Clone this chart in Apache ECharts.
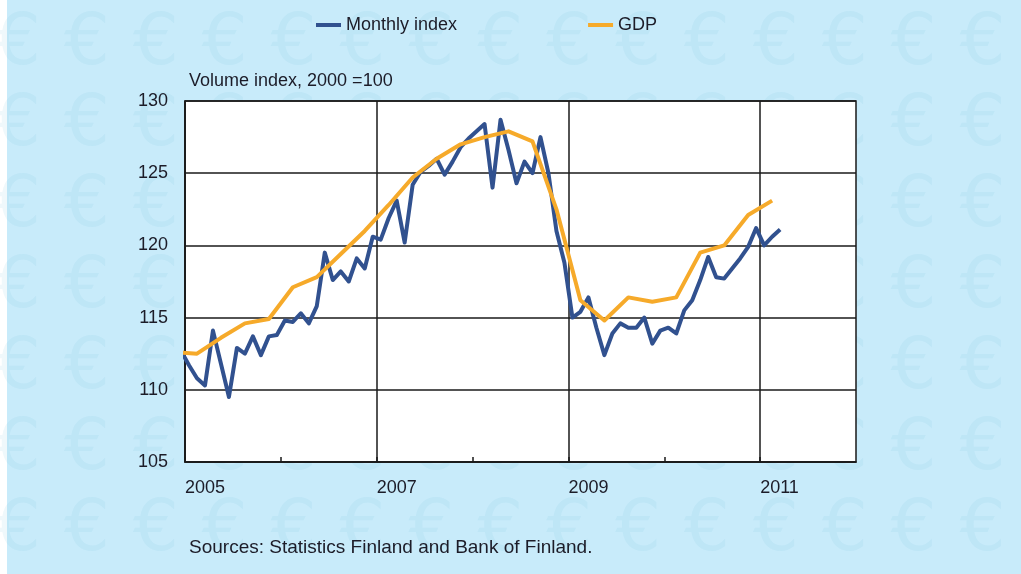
<!DOCTYPE html>
<html>
<head>
<meta charset="utf-8">
<script src="https://cdn.jsdelivr.net/npm/echarts@6/dist/echarts.min.js"></script>
<style>
	html, body { margin:0; padding:0; background:#fff; }
	#IndiceMensual { width:1021px; height:574px; }
</style>
</head>
<body>
<div id="IndiceMensual"></div>
<script>
// monthly index, Dec 2004 .. Mar 2011 (volume index, 2000 = 100)
var monthlyStart = [2004, 12];
var monthlyIndex = [
	112.7,
	111.7, 110.8, 110.3, 114.1, 111.8, 109.5, 112.9, 112.5, 113.7, 112.4, 113.7, 113.8,
	114.8, 114.7, 115.3, 114.6, 115.8, 119.5, 117.6, 118.2, 117.5, 119.1, 118.4, 120.6,
	120.4, 121.9, 123.1, 120.2, 124.2, 125.1, 125.5, 126.0, 124.9, 125.8, 126.8, 127.4,
	127.9, 128.4, 124.0, 128.7, 126.6, 124.3, 125.8, 125.0, 127.5, 125.0, 121.0, 118.8,
	115.0, 115.4, 116.4, 114.3, 112.4, 113.9, 114.6, 114.3, 114.3, 115.0, 113.2, 114.1,
	114.3, 113.9, 115.5, 116.2, 117.6, 119.2, 117.8, 117.7, 118.4, 119.1, 119.9, 121.2,
	120.0, 120.6, 121.1
];

// GDP, quarterly, Q4 2004 .. Q1 2011
var gdpStart = [2004, 4];
var gdp = [
	112.6,
	112.5, 113.6, 114.6, 114.9,
	117.1, 117.8, 119.4, 121.0,
	122.8, 124.7, 126.0, 127.0,
	127.5, 127.9, 127.2, 122.5,
	116.2, 114.8, 116.4, 116.1,
	116.4, 119.5, 120.0, 122.1,
	123.1
];

var yearLabels = [2005, 2007, 2009, 2011];
var legendNames = ['Monthly index', 'GDP'];

var textColor = '#1c1c28';
var fontName = 'Liberation Sans, Arial, sans-serif';

function recorrer(arr, fn) {
	for (var i = 0; i < arr.length; i++) fn(i, arr[i]);
}

// month -> decimal year (middle of month), quarter -> middle of quarter
var serieMensual = new Array();
recorrer(monthlyIndex, function(index, element)
{
	var m = monthlyStart[1] - 1 + index;
	var year = monthlyStart[0] + Math.floor(m / 12);
	serieMensual.push([year + ((m % 12) + 0.5) / 12, element]);
});

var serieGdp = new Array();
recorrer(gdp, function(index, element)
{
	var q = gdpStart[1] - 1 + index;
	var year = gdpStart[0] + Math.floor(q / 4);
	serieGdp.push([year + ((q % 4) * 3 + 1.5) / 12, element]);
});

// faint euro pattern behind the chart
var fondo = [{
	type: 'rect',
	left: 0, top: 0, z: -20, silent: true,
	shape: {width: 7, height: 574},
	style: {fill: '#ffffff'}
}];
for (var fila = 0; fila < 8; fila++) {
	for (var col = 0; col < 16; col++) {
		fondo.push({
			type: 'text',
			x: 18 + col * 68.9,
			y: 45 + fila * 81,
			z: -10,
			silent: true,
			style: {
				text: '€',
				font: '72px DejaVu Sans',
				fill: 'rgba(110,190,215,0.11)',
				align: 'center',
				verticalAlign: 'middle'
			}
		});
	}
}
fondo.push({
	type: 'text',
	x: 189, y: 548,
	style: {
		text: 'Sources: Statistics Finland and Bank of Finland.',
		font: '19px ' + fontName,
		fill: textColor,
		verticalAlign: 'middle'
	}
});

var dom = document.getElementById("IndiceMensual");
var myChart = echarts.init(dom);
option = null;
option = {
	backgroundColor: '#c8ebfa',
	animation: false,
	graphic: fondo,
	legend: {
		left: 311,
		top: 11,
		icon: 'rect',
		itemWidth: 25,
		itemHeight: 4,
		itemGap: 131,
		data: legendNames,
		textStyle: {color: textColor, fontSize: 18, fontFamily: fontName}
	},
	grid: {
		left: 185,
		right: 165,
		top: 101,
		bottom: 112,
		show: true,
		backgroundColor: '#ffffff',
		borderColor: '#1a1a1a',
		borderWidth: 1.5
	},
	xAxis: {
		type: 'value',
		min: 2005,
		max: 2012,
		interval: 1,
		axisLine: {show: true, lineStyle: {color: '#1a1a1a', width: 1.5}},
		axisTick: {show: true, inside: true, length: 5, lineStyle: {color: '#1a1a1a', width: 1.5}},
		axisLabel: {
			color: textColor,
			fontSize: 18,
			fontFamily: fontName,
			align: 'left',
			margin: 17,
			showMaxLabel: false,
			formatter: function(v){
				return yearLabels.indexOf(Math.round(v)) >= 0 ? String(Math.round(v)) : '';
			}
		},
		splitLine: {
			show: true,
			lineStyle: {color: ['#1a1a1a', 'rgba(0,0,0,0)'], width: 1.5}
		}
	},
	yAxis: {
		type: 'value',
		min: 105,
		max: 130,
		interval: 5,
		name: 'Volume index, 2000 =100',
		nameLocation: 'end',
		nameGap: 20,
		nameTextStyle: {
			color: textColor,
			fontSize: 18,
			fontFamily: fontName,
			align: 'left',
			verticalAlign: 'middle',
			padding: [0, 0, 0, 4]
		},
		axisLine: {show: true, lineStyle: {color: '#1a1a1a', width: 1.5}},
		axisTick: {show: false},
		axisLabel: {color: textColor, fontSize: 18, fontFamily: fontName, margin: 17},
		splitLine: {show: true, lineStyle: {color: '#1a1a1a', width: 1.5}}
	},
	series: [
	{
		name: 'Monthly index',
		type: 'line',
		data: serieMensual,
		showSymbol: false,
		clip: true,
		itemStyle: {color: '#31518f'},
		lineStyle: {color: '#31518f', width: 4, join: 'round'}
	},
	{
		name: 'GDP',
		type: 'line',
		data: serieGdp,
		showSymbol: false,
		clip: true,
		itemStyle: {color: '#f6aa2a'},
		lineStyle: {color: '#f6aa2a', width: 4, join: 'round'}
	}
	]
};

if (option && typeof option === "object") {
	myChart.setOption(option, true);
}
</script>
</body>
</html>
